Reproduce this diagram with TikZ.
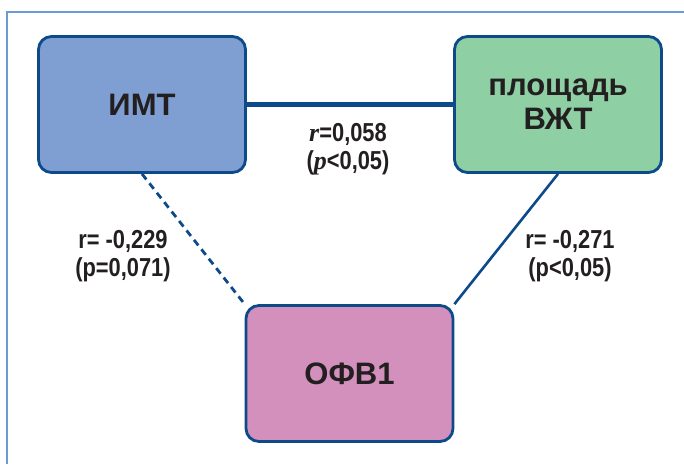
\documentclass[tikz,border=0pt]{standalone}
\usepackage{fontspec}
\setmainfont{Liberation Sans}
\newfontfamily\condfont[FakeStretch=0.84]{Liberation Sans}
\newfontfamily\serifit{Liberation Serif}
\usetikzlibrary{backgrounds}
\definecolor{edgeblue}{HTML}{0D4A8A}
\definecolor{framecol}{HTML}{6C9BCF}
\definecolor{imtfill}{HTML}{7F9FD3}
\definecolor{vztfill}{HTML}{8ECFA4}
\definecolor{ofvfill}{HTML}{D390BD}
\definecolor{txt}{HTML}{231F20}
\tikzset{
  box/.style={draw=edgeblue, line width=2.8pt, rounded corners=13pt,
    minimum width=207pt, minimum height=136pt, inner sep=0pt,
    text=txt, font=\fontsize{31}{34}\selectfont\bfseries, align=center},
  lbl/.style={text=txt, font=\condfont\fontsize{26}{28}\selectfont\bfseries, align=center, inner sep=0pt},
  link/.style={draw=edgeblue, line width=2.6pt}
}
\begin{document}
\begin{tikzpicture}[x=1pt,y=-1pt]
\useasboundingbox (0,0) rectangle (684,464);
\draw[framecol, line width=2pt] (6.5,464) coordinate (fa) -- (6.5,11.5) coordinate (fb) -- (684,11.5) coordinate (fc);
\node[box, fill=imtfill] (imt) at (142,104.5) {ИМТ};
\node[box, fill=vztfill] (vzt) at (558,104.5) {площадь\\ВЖТ};
\node[box, fill=ofvfill] (ofv) at (349.5,373.5) {ОФВ1};
\begin{scope}[on background layer]
\draw[link, line width=5.5pt] (imt.east) -- (vzt.west);
\draw[link, line width=2.8pt, dash pattern=on 7pt off 5pt] (imt.south) -- (ofv.north west);
\draw[link] (vzt.south) -- (ofv.north east);
\end{scope}
\node[lbl] (l1) at (348,149) {{\serifit\itshape r}=0,058\\({\serifit\itshape p}<0,05)};
\node[lbl] (l2) at (123,256) {r= -0,229\\(p=0,071)};
\node[lbl] (l3) at (570,256) {r= -0,271\\(p<0,05)};
\end{tikzpicture}
\end{document}
